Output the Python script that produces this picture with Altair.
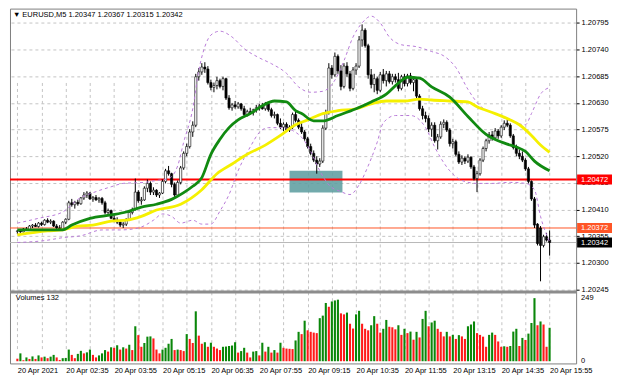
import altair as alt
import pandas as pd

# ---------------- data (prices in points above 1.20000) ----------------
SYMBOL_TEXT = "▼ EURUSD,M5  1.20347 1.20367 1.20315 1.20342"
VOLUME_TEXT = "Volumes 132"

OPEN = [365,366,364,370,368,376,378,375,382,379, 388,384,386,376,372,370,384,390,424,420,
        425,422,434,440,444,432,435,430,433,424, 404,408,392,388,384,378,380,390,404,410,
        446,428,430,454,464,446,450,440,444,468, 490,484,462,440,466,496,526,540,570,584,
        684,694,704,700,672,662,666,676,664,680, 640,620,626,622,628,618,606,612,610,616,
        620,624,618,628,616,604,606,588,580,586, 574,580,606,594,580,570,556,540,526,512,
        504,510,578,610,702,688,726,696,664,706, 690,660,698,706,760,780,748,688,668,680,
        656,688,676,690,674,684,678,660,684,670, 686,672,678,644,618,604,598,576,584,552,
        560,586,590,574,546,550,524,508,516,510, 518,498,474,484,512,536,552,564,558,572,
        562,580,588,584,562,538,526,520,512,494, 468,432,380,372,336,354,347]
HIGH = [368,370,372,374,378,380,382,384,385,390, 392,390,388,380,378,386,392,428,432,428,
        430,436,446,448,446,438,440,436,436,428, 412,410,398,394,388,384,392,406,414,474,
        450,436,458,472,468,456,452,446,472,494, 500,486,466,470,500,530,546,576,592,690,
        702,712,714,706,678,672,684,680,684,682, 646,630,634,632,630,624,616,620,618,626,
        628,630,632,630,620,612,608,598,590,590, 584,610,612,598,588,574,560,546,532,520,
        516,584,616,712,708,734,730,708,712,714, 696,704,712,768,792,784,752,700,690,684,
        694,700,696,696,690,690,692,688,690,690, 692,684,680,648,624,612,604,590,590,566,
        592,596,594,578,556,554,530,522,520,524, 520,502,490,516,540,556,570,572,578,576,
        584,594,596,588,566,544,534,530,516,498, 470,436,382,376,358,362,367]
LOW = [360,362,363,366,366,372,374,373,376,377, 382,380,374,368,366,368,380,388,416,412,
       418,420,430,434,430,426,428,424,420,400, 398,390,384,380,374,372,376,388,400,408,
       424,420,428,446,440,440,436,434,442,464, 480,456,436,436,462,492,520,536,560,580,
       676,688,692,668,656,652,658,660,656,636, 616,614,618,618,614,602,602,606,604,610,
       614,616,614,612,600,598,584,576,572,570, 570,576,590,576,566,552,536,522,508,484,
       498,506,574,606,680,684,690,656,660,684, 654,656,688,702,746,744,680,660,652,648,
       652,670,664,670,668,672,654,656,664,664, 668,654,640,614,596,590,570,560,548,534,
       556,578,570,540,536,520,504,502,504,506, 494,470,446,480,508,530,546,552,554,556,
       558,574,580,558,534,520,514,508,490,464, 428,372,336,262,332,344,315]
CLOSE = [366,364,370,368,376,378,375,382,379,388, 384,386,376,372,370,384,390,424,420,425,
         422,434,440,444,432,435,430,433,424,404, 408,392,388,384,378,380,390,404,410,446,
         428,430,454,464,446,450,440,444,468,490, 484,462,440,466,496,526,540,570,584,684,
         694,704,700,672,662,666,676,664,680,640, 620,626,622,628,618,606,612,610,616,620,
         624,618,628,616,604,606,588,580,586,574, 580,606,594,580,570,556,540,526,512,504,
         510,578,610,702,688,726,696,664,706,690, 660,698,706,760,780,748,688,668,680,656,
         688,676,690,674,684,678,660,684,670,686, 672,678,644,618,604,598,576,584,552,560,
         586,590,574,546,550,524,508,516,510,518, 498,474,484,512,536,552,564,558,572,562,
         580,588,584,562,538,526,520,512,494,468, 432,378,340,336,354,347,342]
VOLUME = [10,31,4,15,9,19,9,23,15,18, 12,18,25,15,5,12,13,46,25,12,
          29,41,31,35,46,25,15,23,31,44, 38,55,53,63,46,55,50,65,44,138,
          103,57,72,97,98,90,46,31,46,53, 69,88,44,46,44,40,107,88,72,197,
          101,69,75,57,73,57,50,44,57,58, 60,62,75,34,40,53,34,15,38,40,
          23,73,38,57,34,44,34,73,53,50, 49,48,82,116,107,160,122,116,113,111,
          170,180,230,215,236,240,243,189,185,192, 148,129,185,199,148,128,122,142,178,148,
          113,128,163,136,134,126,142,104,128,111, 117,85,116,94,167,199,138,153,160,128,
          116,98,116,98,104,88,103,98,88,138, 145,157,111,104,97,57,104,113,104,78,
          57,59,57,60,117,128,60,92,84,109, 151,249,142,157,145,57,132]

GREEN_I = [0,15,18,24,31,36,41,46,51,55,58,61,64,67,70,73,77,81,85,89,92,94,98,101,106,112,117,122,126,129,133,137,143,149,155,162,165,168,171,176]
GREEN_V = [368,368,378,392,399,405,415,421,431,445,458,476,524,555,579,595,608,624,634,632,614,608,593,593,604,618,632,648,671,683,681,663,642,602,565,545,539,530,510,490]
YELLOW_I = [0,10,15,20,25,31,36,41,46,54,61,66,71,76,82,87,92,96,101,106,112,117,122,128,133,137,143,149,152,158,163,166,170,173,176]
YELLOW_V = [358,366,368,376,378,386,388,396,409,421,451,484,504,524,543,563,585,595,608,614,618,628,634,634,638,636,634,632,622,608,595,585,563,543,528]
UPPER_I = [0,7,15,20,26,31,35,42,46,50,53,55,58,60,62,64,67,71,75,80,84,89,93,97,101,105,108,111,114,117,120,123,127,132,137,141,145,149,153,158,163,168,170,173,176]
UPPER_V = [382,392,405,431,447,457,464,466,470,474,500,549,618,697,746,770,778,766,742,723,711,691,663,652,654,677,717,766,795,809,795,766,750,746,736,727,703,658,624,608,593,585,608,648,662]
LOWER_I = [0,9,15,21,28,34,40,45,48,51,54,58,61,64,67,70,73,77,80,83,88,91,94,97,100,103,107,110,113,116,119,121,125,130,135,138,143,147,152,157,163,168,171,173,176]
LOWER_V = [342,346,352,356,368,368,372,388,401,396,382,388,380,380,407,441,490,539,569,579,579,573,559,530,490,461,447,441,461,500,549,589,604,604,579,539,490,470,464,464,466,464,451,396,343]

TIME_POS = [0, 16, 32, 48, 64, 80, 96, 112, 128, 144, 160, 176]
TIME_LABELS = ["20 Apr 2021", "20 Apr 02:35", "20 Apr 03:55", "20 Apr 05:15", "20 Apr 06:35",
               "20 Apr 07:55", "20 Apr 09:15", "20 Apr 10:35", "20 Apr 11:55", "20 Apr 13:15",
               "20 Apr 14:35", "20 Apr 15:55"]
PRICE_TICKS = [1.20245, 1.20300, 1.20355, 1.20410, 1.20465, 1.20520, 1.20575, 1.20630,
               1.20685, 1.20740, 1.20795]
VOL_TICKS = [0, 249]
LEVEL_PRICES = [1.20472, 1.20372, 1.20342]
LEVEL_COLORS = ["#ff0000", "#ff5526", "#000000"]
BID = 1.20342
ZONE = {"i0": 90, "i1": 107.5, "lo": 1.20445, "hi": 1.20490}

# ---------------- layout ----------------
SX = 604 / 620
SY = 372 / 388
W = round(583 * SX)
H = round(371 * SY)
FONT = "Liberation Sans"
FS = 7.5

def px(v):
    return round(1.2 + v / 1e5, 5)

N = len(CLOSE)
cdf = pd.DataFrame({"i": range(N), "o": [px(v) for v in OPEN], "h": [px(v) for v in HIGH],
                    "l": [px(v) for v in LOW], "c": [px(v) for v in CLOSE]})
vdf = pd.DataFrame({"i": range(N), "v": VOLUME})
vdf["up"] = vdf["v"] > vdf["v"].shift(1)
vdf.loc[0, "up"] = False

def line_df(I, V):
    return pd.DataFrame({"i": I, "p": [px(v) for v in V]})

xscale = alt.Scale(domain=[(0 - 2.5) / 3.17, (583 - 2.5) / 3.17], nice=False, zero=False)
label_expr = "''"
for pos, lab in reversed(list(zip(TIME_POS, TIME_LABELS))):
    label_expr = f"datum.value == {pos} ? '{lab}' : ({label_expr})"
xaxis = alt.Axis(values=list(range(0, 177, 8)), labelExpr=label_expr, labelAlign="left",
                 labelBaseline="top", labelPadding=3, ticks=False, domain=False, grid=True,
                 gridColor="#c4c4c4", gridDash=[3, 3], labelFontSize=FS, labelFont=FONT,
                 labelColor="black", labelFlush=False, labelOverlap=False, title=None)

pscale = alt.Scale(domain=[1.20245, 1.20795], range=[294 * SY, 15 * SY], nice=False, zero=False)
paxis = alt.Axis(orient="right", values=PRICE_TICKS, format=".5f", tickSize=3, tickColor="black",
                 domain=False, labelPadding=2, labelFontSize=FS, labelFont=FONT, labelColor="black",
                 grid=True, gridColor="#c4c4c4", gridDash=[3, 3], title=None, labelOverlap=False,
                 labelFlush=False, labelBaseline="middle")
vscale = alt.Scale(domain=[0, 249], range=[369 * SY, 303 * SY], nice=False, zero=False)

def X(f="i"):
    return alt.X(f, type="quantitative", scale=xscale, axis=xaxis)

def Yp(f):
    return alt.Y(f, type="quantitative", scale=pscale, axis=paxis)

def Yv(f):
    return alt.Y(f, type="quantitative", scale=vscale, axis=None, stack=None)

base = alt.Chart(cdf)

zone = alt.Chart(pd.DataFrame([ZONE])).mark_rect(fill="#5f9ea0", opacity=0.88).encode(
    x=X("i0"), x2="i1", y=Yp("lo"), y2="hi")

lvl_df = pd.DataFrame({"p": LEVEL_PRICES, "col": LEVEL_COLORS,
                       "t": [f"{p:.5f}" for p in LEVEL_PRICES]})
bid_line = alt.Chart(pd.DataFrame({"p": [BID]})).mark_rule(color="#b8b8b8", strokeWidth=1).encode(
    y=Yp("p"), x=alt.value(0), x2=alt.value(W))
red_line = alt.Chart(lvl_df.iloc[[0]]).mark_rule(color="#ff0000", strokeWidth=1.8).encode(
    y=Yp("p"), x=alt.value(0), x2=alt.value(W))
orange_line = alt.Chart(lvl_df.iloc[[1]]).mark_rule(color="#ff5526", strokeWidth=1).encode(
    y=Yp("p"), x=alt.value(0), x2=alt.value(W))

wicks = base.mark_rule(color="black", strokeWidth=1).encode(x=X(), y=Yp("l"), y2="h")
bodies = base.mark_bar(size=2.2, stroke="black", strokeWidth=0.6).encode(
    x=X(), y=Yp("o"), y2="c",
    fill=alt.condition("datum.c >= datum.o", alt.value("white"), alt.value("black")))

def ind_line(I, V, color, width, dash=None):
    kw = dict(color=color, strokeWidth=width, interpolate="monotone")
    if dash:
        kw["strokeDash"] = dash
    return alt.Chart(line_df(I, V)).mark_line(**kw).encode(x=X(), y=Yp("p"))

upper = ind_line(UPPER_I, UPPER_V, "#b87ad8", 1, [3, 3])
lower = ind_line(LOWER_I, LOWER_V, "#b87ad8", 1, [3, 3])
yellow = ind_line(YELLOW_I, YELLOW_V, "#f5f000", 2.8)
green = ind_line(GREEN_I, GREEN_V, "#118a11", 2.8)

box_shape = "M-1,-0.29L1,-0.29L1,0.29L-1,0.29Z"
lbl_boxes = alt.Chart(lvl_df).mark_point(shape=box_shape, size=35 * 35, filled=True, opacity=1).encode(
    y=Yp("p"), x=alt.value(W + 18.5), color=alt.Color("col:N", scale=None))
lbl_text = alt.Chart(lvl_df).mark_text(color="white", fontSize=FS, font=FONT, align="center",
                                       baseline="middle").encode(
    y=Yp("p"), x=alt.value(W + 18.5), text="t:N")

title = alt.Chart(pd.DataFrame({"t": [SYMBOL_TEXT]})).mark_text(
    align="left", baseline="middle", fontSize=FS, font=FONT, color="black").encode(
    x=alt.value(3 * SX), y=alt.value(7 * SY), text="t:N")

sep = alt.Chart(pd.DataFrame({"a": [0]})).mark_rule(color="#8c8c8c", strokeWidth=3).encode(
    y=alt.value(296.5 * SY), x=alt.value(0), x2=alt.value(W))

price_layer = alt.layer(zone, bid_line, orange_line, red_line, wicks, bodies,
                        upper, lower, yellow, green, lbl_boxes, lbl_text, title, sep)

vol_bars = alt.Chart(vdf).mark_bar(size=2.1).encode(
    x=X(), y=Yv("v"),
    color=alt.condition("datum.up", alt.value("#0a870a"), alt.value("#ff1a1a")))
vol_ticks = alt.Chart(pd.DataFrame({"v": VOL_TICKS, "t": [str(v) for v in VOL_TICKS]})).mark_text(
    align="left", baseline="middle", fontSize=FS, font=FONT, color="black").encode(
    y=Yv("v"), x=alt.value(W + 5), text="t:N")
vol_title = alt.Chart(pd.DataFrame({"t": [VOLUME_TEXT]})).mark_text(
    align="left", baseline="middle", fontSize=FS, font=FONT, color="black").encode(
    x=alt.value(6 * SX), y=alt.value(303 * SY), text="t:N")

volume_layer = alt.layer(vol_bars, vol_ticks, vol_title)

chart = alt.layer(price_layer, volume_layer).resolve_scale(y="independent").properties(
    width=W, height=H, padding=0, background="white"
).configure_view(stroke="#808080", strokeWidth=1)

chart.save("out.html", embed_options={"renderer": "svg", "actions": False})
